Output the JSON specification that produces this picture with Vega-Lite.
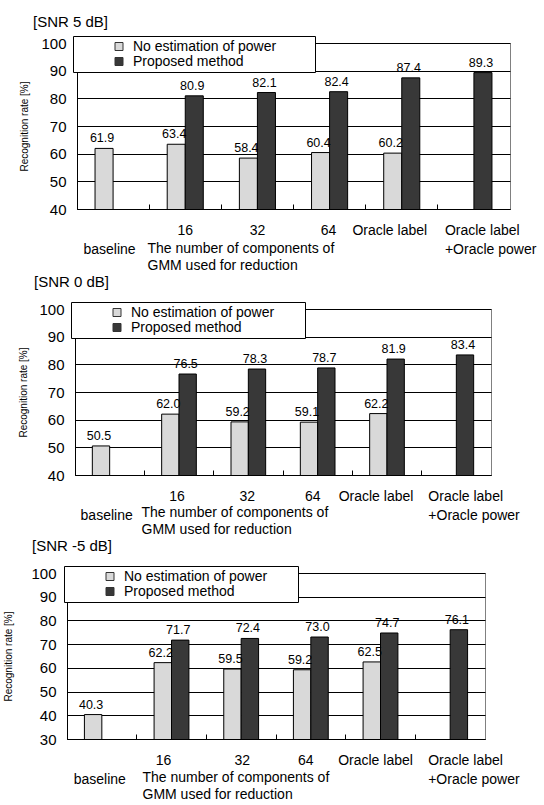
{
  "$schema": "https://vega.github.io/schema/vega-lite/v6.json",
  "padding": {"left": 0, "top": 14, "right": 0, "bottom": 0},
  "config": {
    "font": "Liberation Sans",
    "view": {"stroke": "#808080", "strokeWidth": 1},
    "title": {"fontWeight": "normal", "fontSize": 15, "color": "black", "anchor": "start", "frame": "group"},
    "axisY": {"grid": true, "gridColor": "black", "gridWidth": 1, "ticks": false, "domainColor": "black", "labelFontSize": 15, "labelColor": "black", "labelPadding": 11, "titleFontSize": 10, "titleFontWeight": "normal", "titleColor": "black"},
    "axisX": {"labelAngle": 0, "labelFontSize": 14, "labelColor": "black", "labelLineHeight": 19.5, "bandPosition": 0, "tickSize": -5, "tickColor": "black", "domainColor": "black", "labelPadding": 19, "labelOverlap": false, "labelBound": false, "titleFontSize": 14, "titleFontWeight": "normal", "titleColor": "black", "titleAlign": "left", "titleBaseline": "top", "titleLineHeight": 17.5,
      "labelExpr": "datum.value == 'baseline' ? [' ', 'baseline'] : datum.value == 'Oracle label +Oracle power' ? ['Oracle label', '+Oracle power'] : datum.label",
      "labelAlign": {"condition": {"test": "datum.value == 'Oracle label +Oracle power'", "value": "left"}, "value": "center"}},
    "legend": {"orient": "none", "titleOrient": "left", "titleFontSize": 14, "titlePadding": 3.5, "strokeColor": "black", "fillColor": "white", "padding": 3.5, "symbolType": "square", "symbolSize": 64, "symbolStrokeColor": "#333333", "symbolStrokeWidth": 1, "labelFontSize": 14, "labelColor": "black", "labelOffset": 7, "rowPadding": 1, "labelLimit": 400, "zindex": 1}
  },
  "datasets": {
    "p5": [
      {"cat": "baseline", "series": "No estimation of power", "value": 61.9},
      {"cat": "16", "series": "No estimation of power", "value": 63.4},
      {"cat": "16", "series": "Proposed method", "value": 80.9},
      {"cat": "32", "series": "No estimation of power", "value": 58.4},
      {"cat": "32", "series": "Proposed method", "value": 82.1},
      {"cat": "64", "series": "No estimation of power", "value": 60.4},
      {"cat": "64", "series": "Proposed method", "value": 82.4},
      {"cat": "Oracle label", "series": "No estimation of power", "value": 60.2},
      {"cat": "Oracle label", "series": "Proposed method", "value": 87.4},
      {"cat": "Oracle label +Oracle power", "series": "Proposed method", "value": 89.3}
    ],
    "p0": [
      {"cat": "baseline", "series": "No estimation of power", "value": 50.5},
      {"cat": "16", "series": "No estimation of power", "value": 62.0},
      {"cat": "16", "series": "Proposed method", "value": 76.5},
      {"cat": "32", "series": "No estimation of power", "value": 59.2},
      {"cat": "32", "series": "Proposed method", "value": 78.3},
      {"cat": "64", "series": "No estimation of power", "value": 59.1},
      {"cat": "64", "series": "Proposed method", "value": 78.7},
      {"cat": "Oracle label", "series": "No estimation of power", "value": 62.2},
      {"cat": "Oracle label", "series": "Proposed method", "value": 81.9},
      {"cat": "Oracle label +Oracle power", "series": "Proposed method", "value": 83.4}
    ],
    "pm5": [
      {"cat": "baseline", "series": "No estimation of power", "value": 40.3},
      {"cat": "16", "series": "No estimation of power", "value": 62.2},
      {"cat": "16", "series": "Proposed method", "value": 71.7},
      {"cat": "32", "series": "No estimation of power", "value": 59.5},
      {"cat": "32", "series": "Proposed method", "value": 72.4},
      {"cat": "64", "series": "No estimation of power", "value": 59.2},
      {"cat": "64", "series": "Proposed method", "value": 73.0},
      {"cat": "Oracle label", "series": "No estimation of power", "value": 62.5},
      {"cat": "Oracle label", "series": "Proposed method", "value": 74.7},
      {"cat": "Oracle label +Oracle power", "series": "Proposed method", "value": 76.1}
    ]
  },
  "concat": [
    {
      "hconcat": [
        {"width": 19, "height": 1, "data": {"values": []}, "mark": "point", "view": {"stroke": null}},
        {
          "data": {"name": "p5"},
          "width": 433, "height": 166,
          "title": {"text": "[SNR 5 dB]", "dx": -44, "offset": 6},
          "encoding": {
            "x": {"field": "cat", "type": "nominal", "sort": ["baseline", "16", "32", "64", "Oracle label", "Oracle label +Oracle power"], "scale": {"paddingInner": 0, "paddingOuter": 0},
              "axis": {"title": ["The number of components of", "GMM used for reduction"], "titleX": 70, "titleY": 32,
                "labelOffset": {"condition": [
                  {"test": "datum.value == 'baseline'", "value": -3.5},
                  {"test": "datum.value == '64'", "value": -1},
                  {"test": "datum.value == 'Oracle label'", "value": -12},
                  {"test": "datum.value == 'Oracle label +Oracle power'", "value": -29}], "value": 0}}},
            "xOffset": {"field": "series", "sort": ["No estimation of power", "Proposed method"], "scale": {"paddingInner": 0, "paddingOuter": 1.27}},
            "y": {"field": "value", "type": "quantitative", "scale": {"domain": [40, 100], "nice": false, "zero": false}, "axis": {"values": [40, 50, 60, 70, 80, 90, 100], "title": "Recognition rate [%]", "titlePadding": 11}}
          },
          "layer": [
            {"mark": {"type": "bar", "stroke": "black", "strokeWidth": 1, "clip": true},
             "encoding": {"color": {"field": "series", "type": "nominal", "scale": {"domain": ["No estimation of power", "Proposed method"], "range": ["#d9d9d9", "#383838"]},
               "legend": {"legendX": -4, "legendY": -7, "title": "\u200b\u00a0\u00a0\u00a0\u00a0\u00a0\u00a0\u00a0\u00a0\u200b", "labelExpr": "datum.label + '\u00a0\u00a0\u00a0\u00a0\u00a0\u00a0\u00a0\u00a0\u00a0\u200b'"}}}},
            {"mark": {"type": "text", "baseline": "bottom", "dy": -3, "dx": -2, "fontSize": 12.5, "color": "black"},
             "encoding": {"text": {"field": "value", "type": "quantitative", "format": ".1f"}}}
          ]
        }
      ],
      "spacing": 0,
      "resolve": {"scale": {"color": "independent"}}
    },
    {
      "hconcat": [
        {"width": 18, "height": 1, "data": {"values": []}, "mark": "point", "view": {"stroke": null}},
        {
          "data": {"name": "p0"},
          "width": 416, "height": 166,
          "title": {"text": "[SNR 0 dB]", "dx": -41, "offset": 11.5},
          "encoding": {
            "x": {"field": "cat", "type": "nominal", "sort": ["baseline", "16", "32", "64", "Oracle label", "Oracle label +Oracle power"], "scale": {"paddingInner": 0, "paddingOuter": 0},
              "axis": {"title": ["The number of components of", "GMM used for reduction"], "titleX": 66, "titleY": 30,
                "labelOffset": {"condition": [
                  {"test": "datum.value == 'baseline'", "value": -3},
                  {"test": "datum.value == '16'", "value": -2},
                  {"test": "datum.value == '32'", "value": -1},
                  {"test": "datum.value == '64'", "value": -5},
                  {"test": "datum.value == 'Oracle label'", "value": -11},
                  {"test": "datum.value == 'Oracle label +Oracle power'", "value": -28}], "value": 0}}},
            "xOffset": {"field": "series", "sort": ["No estimation of power", "Proposed method"], "scale": {"paddingInner": 0, "paddingOuter": 1.31}},
            "y": {"field": "value", "type": "quantitative", "scale": {"domain": [40, 100], "nice": false, "zero": false}, "axis": {"values": [40, 50, 60, 70, 80, 90, 100], "title": "Recognition rate [%]", "titlePadding": 10}}
          },
          "layer": [
            {"mark": {"type": "bar", "stroke": "black", "strokeWidth": 1, "clip": true},
             "encoding": {"color": {"field": "series", "type": "nominal", "scale": {"domain": ["No estimation of power", "Proposed method"], "range": ["#d9d9d9", "#383838"]},
               "legend": {"legendX": -4, "legendY": -7, "title": "\u200b\u00a0\u00a0\u00a0\u00a0\u00a0\u00a0\u00a0\u00a0\u200b", "labelExpr": "datum.label + '\u00a0\u00a0\u00a0\u00a0\u00a0\u00a0\u00a0\u200b'"}}}},
            {"mark": {"type": "text", "baseline": "bottom", "dy": -3, "dx": -2, "fontSize": 12.5, "color": "black"},
             "encoding": {"text": {"field": "value", "type": "quantitative", "format": ".1f"}}}
          ]
        }
      ],
      "spacing": 0,
      "resolve": {"scale": {"color": "independent"}}
    },
    {
      "hconcat": [
        {"width": 3, "height": 1, "data": {"values": []}, "mark": "point", "view": {"stroke": null}},
        {
          "data": {"name": "pm5"},
          "width": 418, "height": 166,
          "title": {"text": "[SNR -5 dB]", "dx": -35, "offset": 12},
          "encoding": {
            "x": {"field": "cat", "type": "nominal", "sort": ["baseline", "16", "32", "64", "Oracle label", "Oracle label +Oracle power"], "scale": {"paddingInner": 0, "paddingOuter": 0},
              "axis": {"title": ["The number of components of", "GMM used for reduction"], "titleX": 75, "titleY": 31,
                "labelOffset": {"condition": [
                  {"test": "datum.value == 'baseline'", "value": -2},
                  {"test": "datum.value == '16'", "value": -8},
                  {"test": "datum.value == '32'", "value": 1},
                  {"test": "datum.value == '64'", "value": -5},
                  {"test": "datum.value == 'Oracle label'", "value": -5},
                  {"test": "datum.value == 'Oracle label +Oracle power'", "value": -22}], "value": 0}}},
            "xOffset": {"field": "series", "sort": ["No estimation of power", "Proposed method"], "scale": {"paddingInner": 0, "paddingOuter": 1.31}},
            "y": {"field": "value", "type": "quantitative", "scale": {"domain": [30, 100], "nice": false, "zero": false}, "axis": {"values": [30, 40, 50, 60, 70, 80, 90, 100], "title": "Recognition rate [%]", "titlePadding": 17}}
          },
          "layer": [
            {"mark": {"type": "bar", "stroke": "black", "strokeWidth": 1, "clip": true},
             "encoding": {"color": {"field": "series", "type": "nominal", "scale": {"domain": ["No estimation of power", "Proposed method"], "range": ["#d9d9d9", "#383838"]},
               "legend": {"legendX": -3, "legendY": -7, "title": "\u200b\u00a0\u00a0\u00a0\u00a0\u00a0\u00a0\u00a0\u00a0\u200b", "labelExpr": "datum.label + '\u00a0\u00a0\u00a0\u00a0\u00a0\u00a0\u00a0\u200b'"}}}},
            {"mark": {"type": "text", "baseline": "bottom", "dy": -3, "dx": -2, "fontSize": 12.5, "color": "black"},
             "encoding": {"text": {"field": "value", "type": "quantitative", "format": ".1f"}}}
          ]
        }
      ],
      "spacing": 0,
      "resolve": {"scale": {"color": "independent"}}
    }
  ],
  "columns": 1,
  "spacing": 1,
  "resolve": {"scale": {"color": "independent", "x": "independent", "y": "independent", "xOffset": "independent"}}
}
